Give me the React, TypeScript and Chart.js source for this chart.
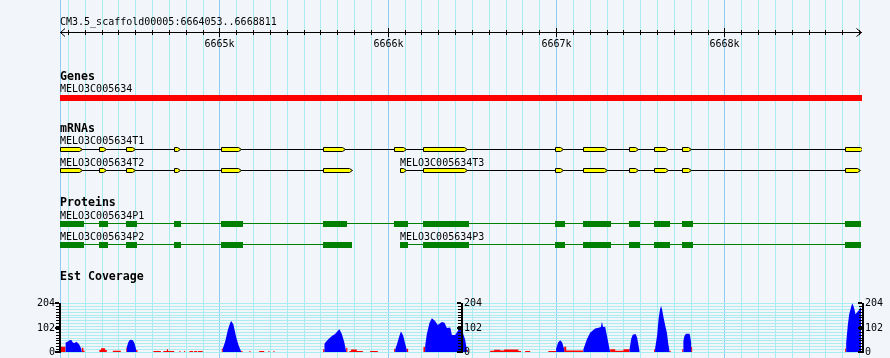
import React, { useEffect, useRef } from 'react';
import { Chart, registerables } from 'chart.js';
Chart.register(...registerables);

// ---------------- data ----------------
const REGION_NAME = 'CM3.5_scaffold00005';
const REGION_START = 6664053;
const REGION_END = 6668811;
const GRID_STEP = 100;
const RULER_MAJOR = [6665000, 6666000, 6667000, 6668000];
const RULER_LABELS = ['6665k', '6666k', '6667k', '6668k'];

const GENE_NAME = 'MELO3C005634';
const GENE_SPAN: [number, number] = [6664053, 6668811];

const T1_NAME = 'MELO3C005634T1';
const T1_EXONS: [number, number][] = [
  [6664053, 6664184], [6664285, 6664327], [6664446, 6664499], [6664731, 6664766],
  [6665010, 6665129], [6665616, 6665747], [6666038, 6666109], [6666210, 6666472],
  [6666994, 6667042], [6667161, 6667303], [6667434, 6667487], [6667582, 6667666],
  [6667749, 6667802], [6668717, 6668822],
];
const T2_NAME = 'MELO3C005634T2';
const T2_EXONS: [number, number][] = [
  [6664053, 6664184], [6664285, 6664327], [6664446, 6664499], [6664731, 6664766],
  [6665010, 6665129], [6665616, 6665788],
];
const T3_NAME = 'MELO3C005634T3';
const T3_EXONS: [number, number][] = [
  [6666073, 6666109], [6666210, 6666472], [6666994, 6667042], [6667161, 6667303],
  [6667434, 6667487], [6667582, 6667666], [6667749, 6667802], [6668717, 6668806],
];

const P1_NAME = 'MELO3C005634P1';
const P1_CDS: [number, number][] = [
  [6664053, 6664196], [6664285, 6664339], [6664446, 6664511], [6664731, 6664772],
  [6665010, 6665141], [6665616, 6665759], [6666038, 6666121], [6666210, 6666483],
  [6666994, 6667054], [6667161, 6667327], [6667434, 6667499], [6667582, 6667678],
  [6667749, 6667815], [6668717, 6668811],
];
const P2_NAME = 'MELO3C005634P2';
const P2_CDS: [number, number][] = [
  [6664053, 6664196], [6664285, 6664339], [6664446, 6664511], [6664731, 6664772],
  [6665010, 6665141], [6665616, 6665788],
];
const P3_NAME = 'MELO3C005634P3';
const P3_CDS: [number, number][] = [
  [6666073, 6666121], [6666210, 6666483], [6666994, 6667054], [6667161, 6667327],
  [6667434, 6667499], [6667582, 6667678], [6667749, 6667815], [6668717, 6668811],
];

const COV_MAX = 204;
const COV_STEP = 12;
const COV_TICKS = [0, 102, 204];

// [position, coverage]
const BLUE_COV: [number, number][] = [
  [6664085, 0], [6664085, 39], [6664097, 43], [6664109, 49], [6664121, 50], [6664129, 40], [6664141, 37],
  [6664149, 43], [6664159, 37], [6664168, 30], [6664178, 16], [6664183, 10], [6664183, 0],
  [6664450, 0], [6664450, 20], [6664458, 40], [6664467, 50], [6664475, 51], [6664487, 48], [6664496, 35],
  [6664505, 12], [6664505, 0],
  [6665020, 0], [6665020, 15], [6665034, 43], [6665050, 92], [6665064, 122], [6665070, 129], [6665083, 115],
  [6665099, 64], [6665113, 29], [6665127, 5], [6665129, 0],
  [6665624, 0], [6665624, 33], [6665628, 39], [6665648, 54], [6665668, 67], [6665687, 75], [6665701, 86],
  [6665713, 95], [6665727, 75], [6665741, 43], [6665751, 8], [6665753, 0],
  [6666044, 0], [6666044, 10], [6666056, 35], [6666068, 65], [6666078, 85], [6666091, 70], [6666103, 35],
  [6666113, 8], [6666113, 0],
  [6666222, 0], [6666222, 25], [6666232, 75], [6666248, 122], [6666262, 141], [6666281, 129], [6666297, 112],
  [6666321, 125], [6666337, 122], [6666351, 100], [6666371, 102], [6666381, 71], [6666400, 71], [6666420, 92],
  [6666440, 94], [6666460, 50], [6666470, 8], [6666470, 0],
  [6667000, 0], [6667000, 15], [6667012, 40], [6667024, 49], [6667036, 40], [6667048, 10], [6667048, 0],
  [6667162, 0], [6667162, 11], [6667183, 53], [6667202, 80], [6667232, 98], [6667252, 101], [6667266, 104],
  [6667272, 126], [6667279, 104], [6667291, 105], [6667305, 57], [6667315, 20], [6667321, 0],
  [6667436, 0], [6667436, 10], [6667446, 55], [6667455, 72], [6667472, 75], [6667481, 60], [6667495, 5],
  [6667495, 0],
  [6667588, 0], [6667588, 15], [6667600, 70], [6667609, 140], [6667618, 180], [6667624, 191], [6667630, 175],
  [6667639, 140], [6667648, 110], [6667658, 80], [6667666, 35], [6667673, 5], [6667673, 0],
  [6667756, 0], [6667756, 46], [6667762, 67], [6667771, 76], [6667792, 76], [6667796, 67], [6667802, 39],
  [6667802, 0],
  [6668723, 0], [6668723, 39], [6668733, 115], [6668741, 157], [6668751, 184], [6668759, 203], [6668766, 191],
  [6668772, 178], [6668778, 157], [6668787, 164], [6668794, 171], [6668802, 175], [6668806, 184], [6668811, 184],
];

// [start, end, coverage]
const RED_COV: [number, number, number][] = [
  [6664053, 6664085, 22], [6664183, 6664192, 18], [6664192, 6664199, 5],
  [6664287, 6664297, 8], [6664297, 6664321, 16], [6664321, 6664331, 8],
  [6664367, 6664414, 5], [6664446, 6664450, 18], [6664505, 6664513, 8],
  [6664608, 6664652, 4], [6664667, 6664688, 4], [6664688, 6664695, 11], [6664695, 6664731, 4],
  [6664762, 6664768, 4], [6664790, 6664796, 4], [6664822, 6664844, 4], [6664850, 6664868, 4],
  [6664873, 6664901, 4], [6665014, 6665020, 15], [6665129, 6665137, 4], [6665178, 6665184, 4],
  [6665236, 6665266, 4], [6665291, 6665297, 4], [6665321, 6665327, 4],
  [6665616, 6665624, 11], [6665753, 6665760, 18], [6665772, 6665782, 4], [6665782, 6665816, 10],
  [6665816, 6665852, 4], [6665895, 6665941, 4], [6666038, 6666044, 14], [6666113, 6666121, 14],
  [6666212, 6666222, 21], [6666470, 6666477, 6],
  [6666608, 6666632, 5], [6666632, 6666668, 9], [6666668, 6666691, 6], [6666691, 6666776, 10],
  [6666776, 6666792, 4], [6666816, 6666846, 4], [6666954, 6667000, 4],
  [6667048, 6667060, 22], [6667060, 6667162, 6],
  [6667321, 6667351, 11], [6667351, 6667400, 5], [6667400, 6667436, 11],
  [6667582, 6667588, 11], [6667673, 6667681, 4], [6667749, 6667756, 11], [6667802, 6667808, 21],
  [6668717, 6668723, 15],
];

// ---------------- layout / style ----------------
const W = 890;
const H = 358;
const COV_ZERO_PX = 352;
const COV_TOP_PX = 303;
const MONO = '"DejaVu Sans Mono", monospace';
const FONT = `10px ${MONO}`;
const BOLD = `bold 11.6px ${MONO}`;
const BG = '#f2f5fa';
const GRID_MINOR = '#aaecf0';
const GRID_MAJOR = '#8ecdf2';

const covRange = (COV_MAX * H) / (COV_ZERO_PX - COV_TOP_PX);
const covMin = -((H - COV_ZERO_PX) * covRange) / H;
const covMax = covMin + covRange;

function txt(ctx: CanvasRenderingContext2D, s: string, x: number, y: number, font: string, align: CanvasTextAlign = 'left', baseline: CanvasTextBaseline = 'alphabetic') {
  ctx.font = font;
  ctx.textAlign = align;
  ctx.textBaseline = baseline;
  ctx.fillStyle = '#000';
  ctx.fillText(s, x, y);
}

const gbrowse = {
  id: 'gbrowse',
  beforeDatasetsDraw(chart: any) {
    const ctx: CanvasRenderingContext2D = chart.ctx;
    const xs = chart.scales.x;
    const ys = chart.scales.y;
    const area = chart.chartArea;
    const px = (v: number) => Math.round(xs.getPixelForValue(v));
    ctx.save();
    ctx.fillStyle = BG;
    ctx.fillRect(0, 0, W, H);

    // vertical grid
    ctx.fillStyle = GRID_MAJOR;
    ctx.fillRect(Math.round(area.left), 0, 1, H);
    for (let g = Math.ceil(REGION_START / GRID_STEP) * GRID_STEP; g <= REGION_END; g += GRID_STEP) {
      ctx.fillStyle = g % 1000 === 0 ? GRID_MAJOR : GRID_MINOR;
      ctx.fillRect(px(g), 0, 1, H);
    }
    // coverage horizontal grid
    ctx.fillStyle = GRID_MINOR;
    for (let v = 0; v <= COV_MAX; v += COV_STEP) {
      const y = Math.round(ys.getPixelForValue(v));
      ctx.fillRect(Math.round(area.left), y, Math.round(area.right - area.left) + 1, 1);
    }

    // ruler
    const left = Math.round(area.left);
    const right = Math.round(area.right);
    txt(ctx, `${REGION_NAME}:${REGION_START}..${REGION_END}`, left, 25, FONT);
    ctx.fillStyle = '#000';
    ctx.fillRect(left, 32, right - left + 1, 1);
    ctx.strokeStyle = '#000';
    ctx.lineWidth = 1;
    ctx.beginPath();
    ctx.moveTo(left + 5, 28.5); ctx.lineTo(left + 0.5, 32.5); ctx.lineTo(left + 5, 36.5);
    ctx.moveTo(right - 4.5, 28.5); ctx.lineTo(right + 0.5, 32.5); ctx.lineTo(right - 4.5, 36.5);
    ctx.stroke();
    for (let g = Math.ceil(REGION_START / GRID_STEP) * GRID_STEP; g <= REGION_END; g += GRID_STEP) {
      const x = px(g);
      if (g % 1000 === 0) ctx.fillRect(x, 28, 1, 9);
      else ctx.fillRect(x, 30, 1, 5);
    }
    RULER_MAJOR.forEach((g, i) => txt(ctx, RULER_LABELS[i], px(g) + 0.5, 46.5, FONT, 'center'));

    // Genes
    txt(ctx, 'Genes', left, 80, BOLD);
    txt(ctx, GENE_NAME, left, 92, FONT);
    ctx.fillStyle = '#ff0000';
    ctx.fillRect(px(GENE_SPAN[0]), 95, px(GENE_SPAN[1]) - px(GENE_SPAN[0]) + 1, 6);

    // mRNAs
    txt(ctx, 'mRNAs', left, 132, BOLD);
    const drawTx = (name: string, exons: [number, number][], y: number, ly: number) => {
      const s = exons[0][0];
      const e = exons[exons.length - 1][1];
      txt(ctx, name, px(s), ly, FONT);
      ctx.fillStyle = '#000';
      ctx.fillRect(px(s), y, Math.min(px(e), right + 1) - px(s), 1);
      for (const [a0, b0] of exons) {
        const a = px(a0);
        const b = px(b0);
        ctx.beginPath();
        ctx.moveTo(a + 0.5, y - 1.5);
        ctx.lineTo(b - 2.5, y - 1.5);
        ctx.lineTo(b + 0.5, y + 0.5);
        ctx.lineTo(b - 2.5, y + 2.5);
        ctx.lineTo(a + 0.5, y + 2.5);
        ctx.closePath();
        ctx.fillStyle = '#ffff00';
        ctx.fill();
        ctx.strokeStyle = '#000';
        ctx.stroke();
      }
    };
    ctx.save();
    ctx.beginPath();
    ctx.rect(0, 0, right + 1, H);
    ctx.clip();
    drawTx(T1_NAME, T1_EXONS, 149, 144);
    drawTx(T2_NAME, T2_EXONS, 170, 166);
    drawTx(T3_NAME, T3_EXONS, 170, 166);
    ctx.restore();

    // Proteins
    txt(ctx, 'Proteins', left, 206, BOLD);
    const drawP = (name: string, cds: [number, number][], y: number, ly: number) => {
      const s = cds[0][0];
      const e = cds[cds.length - 1][1];
      txt(ctx, name, px(s), ly, FONT);
      ctx.fillStyle = '#008000';
      ctx.fillRect(px(s), y, px(e) - px(s), 1);
      for (const [a0, b0] of cds) {
        ctx.fillRect(px(a0), y - 2, px(b0) - px(a0), 6);
      }
    };
    drawP(P1_NAME, P1_CDS, 223, 219);
    drawP(P2_NAME, P2_CDS, 244, 240);
    drawP(P3_NAME, P3_CDS, 244, 240);

    txt(ctx, 'Est Coverage', left, 280, BOLD);
    ctx.restore();
  },
  afterDatasetsDraw(chart: any) {
    const ctx: CanvasRenderingContext2D = chart.ctx;
    const ys = chart.scales.y;
    const area = chart.chartArea;
    ctx.save();
    const yTop = Math.round(ys.getPixelForValue(COV_MAX));
    const yBot = Math.round(ys.getPixelForValue(0));
    const axes = [
      { x: Math.round(area.left) - 1, labelLeft: true },
      { x: Math.round((area.left + area.right) / 2), labelLeft: false },
      { x: Math.round(area.right) + 1, labelLeft: false },
    ];
    for (const ax of axes) {
      ctx.fillStyle = '#000';
      ctx.fillRect(ax.x, yTop, 2, yBot - yTop + 1);
      for (let v = 0; v <= COV_MAX; v += COV_STEP) {
        const y = Math.round(ys.getPixelForValue(v));
        ctx.fillRect(ax.x - 3, y, 3, 1);
      }
      for (const v of COV_TICKS) {
        const y = Math.round(ys.getPixelForValue(v));
        ctx.fillRect(ax.x - 4, y - 1, 4, 2);
        if (ax.labelLeft) txt(ctx, String(v), ax.x - 4, y + 0.5, FONT, 'right', 'middle');
        else txt(ctx, String(v), ax.x + 3, y + 0.5, FONT, 'left', 'middle');
      }
    }
    ctx.restore();
  },
};

export default function App() {
  const ref = useRef<HTMLCanvasElement>(null);
  useEffect(() => {
    const canvas = ref.current!;
    const redPoints: { x: number; y: number }[] = [];
    for (const [s, e, v] of RED_COV) {
      redPoints.push({ x: s, y: v });
      redPoints.push({ x: e, y: 0 });
    }
    const chart = new Chart(canvas, {
      type: 'line',
      data: {
        datasets: [
          {
            label: 'Est coverage',
            data: BLUE_COV.map(([x, y]) => ({ x, y })),
            borderColor: 'transparent',
            borderWidth: 0,
            backgroundColor: '#0000ff',
            fill: 'origin',
            pointRadius: 0,
            tension: 0,
            order: 0,
          },
          {
            label: 'Est coverage (other)',
            data: redPoints,
            stepped: true,
            borderColor: 'transparent',
            borderWidth: 0,
            backgroundColor: '#ff0000',
            fill: 'origin',
            pointRadius: 0,
            order: 1,
          },
        ],
      },
      options: {
        responsive: false,
        animation: false,
        events: [],
        layout: { padding: { left: 60, right: W - 861, top: 0, bottom: 0 } },
        scales: {
          x: { type: 'linear', min: REGION_START, max: REGION_END, display: false },
          y: { type: 'linear', min: covMin, max: covMax, display: false },
        },
        plugins: { legend: { display: false }, tooltip: { enabled: false } },
      },
      plugins: [gbrowse],
    } as any);
    return () => chart.destroy();
  }, []);
  return (
    <div style={{ position: 'fixed', left: 0, top: 0, width: W, height: H }}>
      <canvas ref={ref} width={W} height={H} style={{ display: 'block' }} />
    </div>
  );
}
